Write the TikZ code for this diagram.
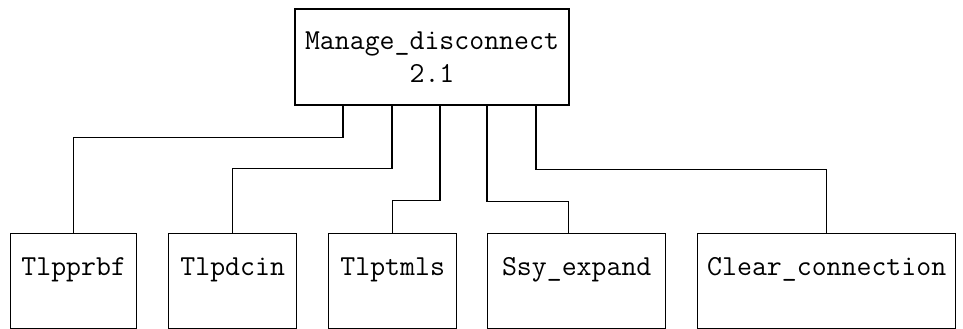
\documentclass[tikz,border=0pt]{standalone}
\usepackage{fontspec}
\usepackage{tikz}
\usetikzlibrary{calc}

\begin{document}
\begin{tikzpicture}[x=1pt, y=-1pt, line width=1.4pt,
	modfont/.style={font=\ttfamily\fontsize{29}{33}\selectfont},
	parentbox/.style={draw, modfont, align=center, minimum width=274pt, minimum height=96pt},
	childbox/.style={draw, modfont, anchor=north west, inner xsep=0pt, inner ysep=0pt,
		text height=42pt, text depth=53pt}]

	\useasboundingbox (0,0) rectangle (963,329);

	\node[parentbox] (top) at (432,57) {Manage\_disconnect\\2.1};

	\node[childbox, minimum width=126pt] (prrbf) at (10,233) {Tlpprbf};
	\node[childbox, minimum width=128pt] (pdcin) at (168,233) {Tlpdcin};
	\node[childbox, minimum width=128pt] (ptmls) at (328,233) {Tlptmls};
	\node[childbox, minimum width=178pt] (expand) at (487,233) {Ssy\_expand};
	\node[childbox, minimum width=258pt] (clear) at (697,233) {Clear\_connection};

	\draw ([xshift=-89pt]top.south) -- ++(0,32) -| (prrbf.north);
	\draw ([xshift=-40pt]top.south) -- ++(0,63) -| (pdcin.north);
	\draw ([xshift=8pt]top.south) -- ++(0,95) -| (ptmls.north);
	\draw ([xshift=55pt]top.south) -- ++(0,96) -| ([xshift=-8pt]expand.north);
	\draw ([xshift=104pt]top.south) -- ++(0,64) -| (clear.north);

\end{tikzpicture}
\end{document}
